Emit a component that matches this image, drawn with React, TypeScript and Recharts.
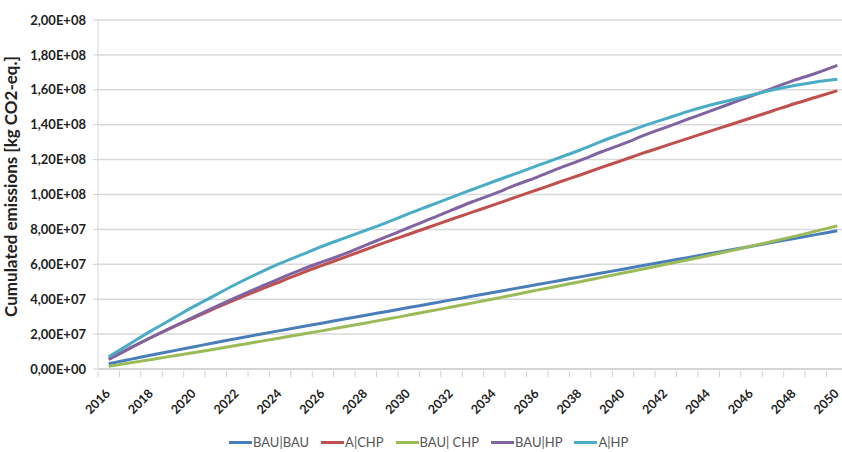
import React from 'react';
import { LineChart, Line, XAxis, YAxis, CartesianGrid, Legend } from 'recharts';

// values in units of 1e7 kg CO2-eq.
const years = [
  2016, 2017, 2018, 2019, 2020, 2021, 2022, 2023, 2024, 2025, 2026, 2027,
  2028, 2029, 2030, 2031, 2032, 2033, 2034, 2035, 2036, 2037, 2038, 2039,
  2040, 2041, 2042, 2043, 2044, 2045, 2046, 2047, 2048, 2049, 2050,
];
const bauBau = [
  0.3, 0.55, 0.8, 1.04, 1.28, 1.52, 1.75, 1.98, 2.2, 2.42, 2.64, 2.86,
  3.08, 3.3, 3.52, 3.74, 3.96, 4.18, 4.4, 4.62, 4.84, 5.06, 5.28, 5.5,
  5.72, 5.94, 6.16, 6.38, 6.6, 6.82, 7.04, 7.26, 7.48, 7.7, 7.92,
];
const aChp = [
  0.55, 1.2, 1.82, 2.4, 2.95, 3.5, 4.02, 4.52, 5.0, 5.5, 5.95, 6.4,
  6.85, 7.3, 7.72, 8.15, 8.58, 9.0, 9.42, 9.85, 10.27, 10.7, 11.12, 11.55,
  11.97, 12.4, 12.8, 13.2, 13.6, 14.0, 14.4, 14.8, 15.2, 15.57, 15.95,
];
const bauChp = [
  0.15, 0.35, 0.55, 0.75, 0.95, 1.15, 1.36, 1.57, 1.78, 1.99, 2.2, 2.42,
  2.64, 2.86, 3.09, 3.32, 3.55, 3.79, 4.03, 4.27, 4.52, 4.76, 5.0, 5.25,
  5.5, 5.75, 6.0, 6.25, 6.5, 6.77, 7.04, 7.32, 7.6, 7.9, 8.2,
];
const bauHp = [
  0.57, 1.2, 1.82, 2.42, 3.0, 3.57, 4.13, 4.67, 5.2, 5.7, 6.15, 6.6,
  7.1, 7.6, 8.1, 8.6, 9.1, 9.6, 10.05, 10.55, 11.0, 11.5, 11.95, 12.45,
  12.9, 13.4, 13.85, 14.3, 14.75, 15.2, 15.65, 16.1, 16.55, 16.95, 17.4,
];
const aHp = [
  0.7, 1.45, 2.2, 2.9, 3.6, 4.25, 4.9, 5.5, 6.05, 6.55, 7.05, 7.5,
  7.95, 8.4, 8.9, 9.37, 9.84, 10.3, 10.76, 11.2, 11.65, 12.1, 12.55, 13.05,
  13.5, 13.95, 14.35, 14.75, 15.1, 15.4, 15.7, 16.0, 16.25, 16.45, 16.6,
];
const yTicks = [0, 2e7, 4e7, 6e7, 8e7, 1e8, 1.2e8, 1.4e8, 1.6e8, 1.8e8, 2e8];

const series = [
  { key: 'BAU|BAU', values: bauBau, color: '#4a7ebb' },
  { key: 'A|CHP', values: aChp, color: '#c0504d' },
  { key: 'BAU| CHP', values: bauChp, color: '#9bbb59' },
  { key: 'BAU|HP', values: bauHp, color: '#8064a2' },
  { key: 'A|HP', values: aHp, color: '#4bacc6' },
];

const data = years.map((year, i) => {
  const row: Record<string, number | string> = { year: String(year) };
  series.forEach((s) => {
    row[s.key] = s.values[i] * 1e7;
  });
  return row;
});

// the original picture is cropped on the right, so the chart runs a bit past the frame
const FRAME_W = 842;
const WIDTH = 848;
const HEIGHT = 452;
const MARGIN = { top: 20, right: 0, bottom: 0, left: 4 };
const Y_WIDTH = 94;
const PLOT_W = WIDTH - MARGIN.left - MARGIN.right - Y_WIDTH;
const HALF_BAND = PLOT_W / years.length / 2;
const FONT = 'Lato, "Open Sans", sans-serif';

function sci(v: number): string {
  if (v === 0) return '0,00E+00';
  const exp = Math.floor(Math.log10(v));
  const mant = (v / Math.pow(10, exp)).toFixed(2).replace('.', ',');
  return `${mant}E+${String(exp).padStart(2, '0')}`;
}

function YearTick(props: any) {
  const { x, y, payload } = props;
  const tx = x;
  const ty = y + 15;
  return (
    <g>
      <line x1={x - HALF_BAND} x2={x - HALF_BAND} y1={y - 6} y2={y} stroke="#d0d0d0" />
      <line x1={x + HALF_BAND} x2={x + HALF_BAND} y1={y - 6} y2={y} stroke="#d0d0d0" />
      <text
        x={tx}
        y={ty}
        transform={`rotate(-45, ${tx}, ${ty})`}
        textAnchor="end"
        dominantBaseline="middle"
        fontSize={12.5}
        fontWeight={700}
        fill="#222"
        fontFamily={FONT}
      >
        {payload.value}
      </text>
    </g>
  );
}

function YTitle(props: any) {
  const { viewBox } = props;
  const cx = 10;
  const cy = viewBox.y + viewBox.height / 2 - 8;
  return (
    <text
      x={cx}
      y={cy}
      transform={`rotate(-90, ${cx}, ${cy})`}
      textAnchor="middle"
      dominantBaseline="central"
      fontSize={17}
      fontWeight={700}
      fill="#222"
      fontFamily={FONT}
    >
      Cumulated emissions [kg CO2-eq.]
    </text>
  );
}

function LegendContent() {
  return (
    <div style={{ display: 'flex', marginLeft: 225, paddingTop: 6, fontFamily: FONT, fontSize: 13, color: '#555', lineHeight: '16px' }}>
      {series.map((s) => (
        <div key={s.key} style={{ display: 'flex', alignItems: 'center', marginRight: 12 }}>
          <span style={{ width: 23, height: 3, background: s.color, display: 'inline-block', marginRight: 1 }} />
          <span>{s.key}</span>
        </div>
      ))}
    </div>
  );
}

export default function App() {
  return (
    <div style={{ position: 'absolute', left: 0, top: 0, width: FRAME_W, height: HEIGHT, overflow: 'hidden', background: '#fff' }}>
      <LineChart width={WIDTH} height={HEIGHT} data={data} margin={MARGIN}>
        <CartesianGrid vertical={false} stroke="#d9d9d9" strokeWidth={1.5} />
        <XAxis
          dataKey="year"
          interval={1}
          height={59}
          padding={{ left: HALF_BAND, right: HALF_BAND }}
          tick={<YearTick />}
          tickLine={false}
          axisLine={{ stroke: '#d0d0d0', strokeWidth: 1.5 }}
        />
        <YAxis
          width={Y_WIDTH}
          domain={[0, 2e8]}
          ticks={yTicks}
          tickFormatter={sci}
          tickSize={5}
          tickMargin={7}
          tickLine={{ stroke: '#d0d0d0' }}
          axisLine={{ stroke: '#d9d9d9' }}
          tick={{ fontSize: 13, fontWeight: 700, fill: '#222', fontFamily: FONT }}
          label={<YTitle />}
        />
        <Legend verticalAlign="bottom" height={24} content={<LegendContent />} />
        {series.map((s) => (
          <Line
            key={s.key}
            type="monotone"
            dataKey={s.key}
            stroke={s.color}
            strokeWidth={3}
            dot={false}
            isAnimationActive={false}
          />
        ))}
      </LineChart>
    </div>
  );
}
